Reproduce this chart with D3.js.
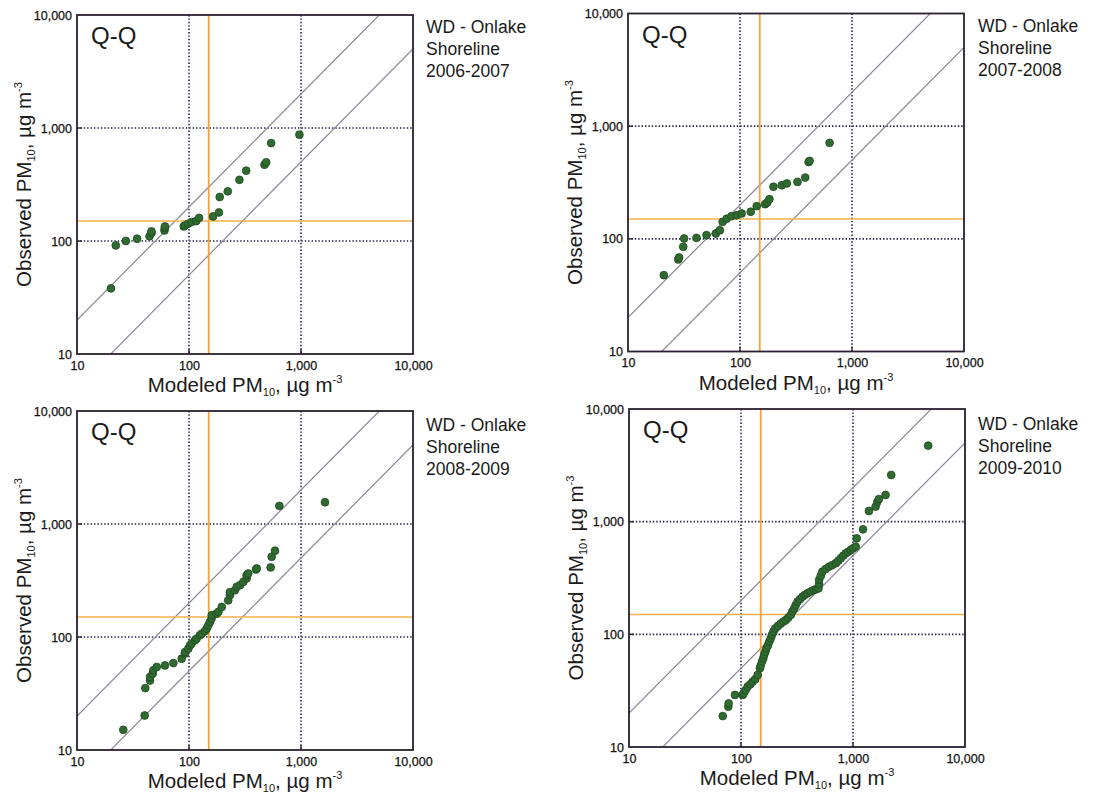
<!DOCTYPE html>
<html><head><meta charset="utf-8">
<script src="https://cdn.jsdelivr.net/npm/d3@7"></script>
<style>
html,body{margin:0;padding:0;background:#fff;}
svg{display:block;font-family:"Liberation Sans",Arial,sans-serif;}
</style></head>
<body><svg id="chart" width="1096" height="799"></svg>
<script>
// ---------------- data ----------------
const periods = ["2006-2007", "2007-2008", "2008-2009", "2009-2010"];
const siteLine1 = "WD - Onlake";
const siteLine2 = "Shoreline";
const panelTitle = "Q-Q";

const modeled0607  = [20.1, 22.2, 27.3, 34.4, 44.4, 46.3, 46.2, 60.4, 60.8, 61, 89.8, 91.6, 98, 105, 116, 123, 164, 185, 188, 222, 282, 324, 472, 489, 541, 968];
const observed0607 = [38.1, 91.4, 100, 104.7, 110, 117.8, 121.7, 124, 130, 134.6, 134.6, 137, 142, 147, 150, 160, 165, 179, 245, 275, 348, 419, 473, 497, 736, 873];

const modeled0708  = [20.9, 28.1, 28.6, 31.1, 31.7, 40.9, 50.2, 60.9, 66.2, 70, 76, 84, 93.3, 103.5, 124.7, 141, 167.5, 175, 183, 199, 236, 262, 326, 382, 410, 418, 631];
const observed0708 = [47.6, 65.6, 68.3, 85, 100.7, 102, 108, 111.5, 119, 141.6, 151, 159, 162, 168, 174, 195, 203, 210, 225, 290, 299, 310, 320, 350, 480, 492, 711];

const modeled0809  = [25.9, 40.2, 40.7, 44.9, 44.9, 47.4, 48, 51.5, 61, 72.5, 86, 92, 92.1, 98.6, 102, 105.6, 113, 117, 125, 130, 139, 144, 149, 154, 159, 159.5, 176.5, 183, 196, 224, 232, 232, 257, 267, 285, 306, 327, 327, 338, 397, 402, 536, 547, 586, 641, 1637];
const observed0809 = [15.1, 20.2, 35.3, 41.2, 44.3, 47.3, 50.7, 54.3, 56, 58.8, 64.3, 71.3, 73.6, 78.9, 84.4, 87.4, 93.4, 96.8, 103.5, 107, 113, 118.7, 127, 136, 145.6, 156, 161, 167, 184.5, 211, 234.6, 250, 259, 278, 287.6, 308, 330, 352, 365, 396, 404, 413, 513, 580, 1445, 1557];

const modeled0910  = [68.7, 77, 77.6, 88.4, 103.5, 105.6, 110, 114.7, 121, 127, 134, 141, 147.6, 150, 154, 158, 161, 165, 169, 174, 179, 184, 189, 195, 202, 214, 227, 240, 252, 265, 279, 288, 298.5, 308, 320, 336, 354, 372, 393, 420, 450, 472, 492, 498, 498, 515, 533, 570, 612, 655, 702, 740, 777, 820, 861, 905, 955, 1000, 1057, 1079, 1228, 1388, 1592, 1650, 1703, 1953, 2194, 4688];
const observed0910 = [18.8, 22.8, 24.4, 29, 29, 30, 32, 34.4, 36, 38, 40, 43.6, 50, 53, 57.3, 61, 65.6, 70, 75.3, 80, 86, 92, 98.8, 106, 113, 119, 125, 130, 134, 141, 149, 160, 170, 182, 195, 205, 216, 224, 232, 240, 248, 252, 256, 280, 304, 330, 360, 380, 399, 412, 428, 450, 473, 500, 524, 540, 561, 580, 600, 711, 855, 1243, 1360, 1500, 1587, 1725, 2596, 4732];

const modeledSets = [modeled0607, modeled0708, modeled0809, modeled0910];
const observedSets = [observed0607, observed0708, observed0809, observed0910];

const axisDomain = [10, 10000];
const tickValues = [10, 100, 1000, 10000];
const tickLabels = ["10", "100", "1,000", "10,000"];
const gridValues = [100, 1000];
const standardValue = 150;      // PM10 standard
const factorLines = [2, 0.5];   // factor-of-two lines

// ---------------- layout ----------------
const boxes = [
  {x0: 77,  x1: 413, y0: 15,  y1: 354},
  {x0: 628, x1: 964, y0: 13.5,y1: 351.5},
  {x0: 77,  x1: 413, y0: 411, y1: 750},
  {x0: 629, x1: 965, y0: 409, y1: 747}
];
const labelPos = [
  {x: 426, y: 33}, {x: 978, y: 32}, {x: 426, y: 431}, {x: 978, y: 430}
];

const svg = d3.select("#chart");
const defs = svg.append("defs");

boxes.forEach((b, i) => {
  const x = d3.scaleLog().domain(axisDomain).range([b.x0, b.x1]);
  const y = d3.scaleLog().domain(axisDomain).range([b.y1, b.y0]);
  const g = svg.append("g");
  const clipId = "clip" + i;
  defs.append("clipPath").attr("id", clipId).append("rect")
    .attr("x", b.x0).attr("y", b.y0).attr("width", b.x1 - b.x0).attr("height", b.y1 - b.y0);

  const inner = g.append("g").attr("clip-path", `url(#${clipId})`);

  // dotted grid
  inner.selectAll(".gx").data(gridValues).join("line")
    .attr("x1", d => x(d)).attr("x2", d => x(d)).attr("y1", b.y0).attr("y2", b.y1)
    .attr("stroke", "#1e1e48").attr("stroke-width", 1.6).attr("stroke-dasharray", "1.4,2");
  inner.selectAll(".gy").data(gridValues).join("line")
    .attr("y1", d => y(d)).attr("y2", d => y(d)).attr("x1", b.x0).attr("x2", b.x1)
    .attr("stroke", "#1e1e48").attr("stroke-width", 1.6).attr("stroke-dasharray", "1.4,2");

  // factor-of-two lines
  inner.selectAll(".fl").data(factorLines).join("line")
    .attr("x1", d => x(axisDomain[0])).attr("y1", d => y(axisDomain[0] * d))
    .attr("x2", d => x(axisDomain[1])).attr("y2", d => y(axisDomain[1] * d))
    .attr("stroke", "#8a8496").attr("stroke-width", 1.2);

  // standard lines
  inner.append("line").attr("x1", x(standardValue)).attr("x2", x(standardValue))
    .attr("y1", b.y0).attr("y2", b.y1).attr("stroke", "#f2a23c").attr("stroke-width", 1.8);
  inner.append("line").attr("y1", y(standardValue)).attr("y2", y(standardValue))
    .attr("x1", b.x0).attr("x2", b.x1).attr("stroke", "#f4b04e").attr("stroke-width", 1.5);

  // points
  const mod = modeledSets[i], obs = observedSets[i];
  inner.selectAll("circle").data(d3.range(mod.length)).join("circle")
    .attr("cx", k => x(mod[k])).attr("cy", k => y(obs[k])).attr("r", 3.9)
    .attr("fill", "#2f6b30").attr("stroke", "#1f4a20").attr("stroke-width", 0.8);

  // frame
  g.append("rect").attr("x", b.x0).attr("y", b.y0).attr("width", b.x1 - b.x0).attr("height", b.y1 - b.y0)
    .attr("fill", "none").attr("stroke", "#2a2030").attr("stroke-width", 1.8);

  // axes (labels)
  const fmt = d => tickLabels[tickValues.indexOf(d)];
  const ax = g.append("g").attr("transform", `translate(0,${b.y1})`)
    .call(d3.axisBottom(x).tickValues(tickValues).tickFormat(fmt).tickSize(0).tickPadding(7));
  const ay = g.append("g").attr("transform", `translate(${b.x0},0)`)
    .call(d3.axisLeft(y).tickValues(tickValues).tickFormat(fmt).tickSize(0).tickPadding(5));
  [ax, ay].forEach(a => {
    a.select(".domain").remove();
    a.selectAll("text").attr("font-size", 12.5).attr("fill", "#111")
      .attr("font-family", "'Liberation Sans', Arial, sans-serif")
      .attr("stroke", "#111").attr("stroke-width", 0.25);
  });
  // small inner tick marks
  g.selectAll(".tkx").data(gridValues).join("line")
    .attr("x1", d => x(d)).attr("x2", d => x(d)).attr("y1", b.y1).attr("y2", b.y1 - 5)
    .attr("stroke", "#2a2030").attr("stroke-width", 1.4);
  g.selectAll(".tky").data(gridValues).join("line")
    .attr("y1", d => y(d)).attr("y2", d => y(d)).attr("x1", b.x0).attr("x2", b.x0 + 5)
    .attr("stroke", "#2a2030").attr("stroke-width", 1.4);

  // Q-Q label
  g.append("text").attr("x", b.x0 + 14).attr("y", b.y0 + 29).attr("font-size", 24)
    .attr("fill", "#1a1a1a").text(panelTitle);

  // x-axis title
  const xt = g.append("text").attr("x", (b.x0 + b.x1) / 2).attr("y", b.y1 + 38)
    .attr("text-anchor", "middle").attr("font-size", 20.5).attr("fill", "#1a1a1a");
  xt.append("tspan").text("Modeled PM");
  xt.append("tspan").attr("font-size", 11).attr("dy", 4).text("10");
  xt.append("tspan").attr("dy", -4).text(", \u00b5g m");
  xt.append("tspan").attr("font-size", 11).attr("dy", -9).text("-3");

  // y-axis title
  const yt = g.append("text")
    .attr("transform", `translate(${b.x0 - 46},${(b.y0 + b.y1) / 2}) rotate(-90)`)
    .attr("text-anchor", "middle").attr("font-size", 20.5).attr("fill", "#1a1a1a");
  yt.append("tspan").text("Observed PM");
  yt.append("tspan").attr("font-size", 11).attr("dy", 4).text("10");
  yt.append("tspan").attr("dy", -4).text(", \u00b5g m");
  yt.append("tspan").attr("font-size", 11).attr("dy", -9).text("-3");

  // site labels
  const lp = labelPos[i];
  [siteLine1, siteLine2, periods[i]].forEach((t, k) => {
    g.append("text").attr("x", lp.x).attr("y", lp.y + k * 21.8)
      .attr("font-size", 17.5).attr("fill", "#1a1a1a").text(t);
  });
});
</script></body></html>
